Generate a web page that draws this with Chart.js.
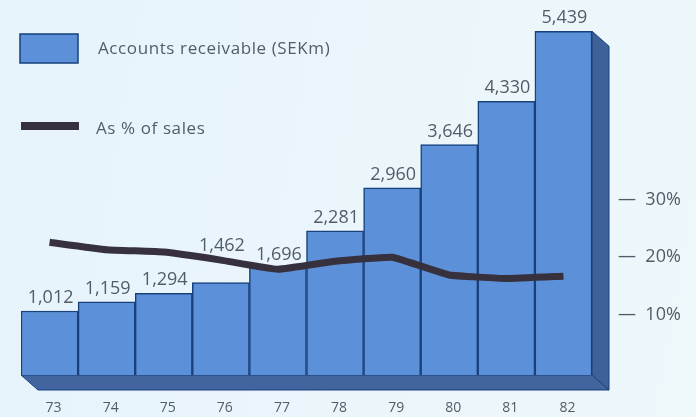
<!DOCTYPE html>
<html>
<head>
<meta charset="utf-8">
<style>
  html, body { margin: 0; padding: 0; width: 696px; height: 417px; overflow: hidden;
    background: linear-gradient(100deg, #e6f3fb 0%, #ebf6fb 55%, #eef8fb 100%); }
  #wrap { position: absolute; left: 0; top: 0; width: 696px; height: 417px; }
</style>
</head>
<body>
<div id="wrap"><canvas id="chart" width="696" height="417"></canvas></div>
<script src="https://cdn.jsdelivr.net/npm/chart.js@4/dist/chart.umd.min.js"></script>
<script>
// Accounts receivable, 1973-82, with its share of sales
const years = ['73', '74', '75', '76', '77', '78', '79', '80', '81', '82'];
const receivables = [1012, 1159, 1294, 1462, 1696, 2281, 2960, 3646, 4330, 5439];
const percentOfSales = [22.6, 21.3, 20.9, 19.5, 17.9, 19.3, 20.0, 16.9, 16.3, 16.7];
const percentTicks = [10, 20, 30];
// Labels that sit above the percentage line rather than on their bar
const labelsAboveLine = ['76', '77'];

const FONT = '"Open Sans", "Noto Sans", sans-serif';
const TEXT = '#525c68';
const BAR = '#5c90d9';
const EDGE = '#17407c';
const LINE = '#37303d';

// Floor and side wall that give the column block its depth
const depthPlugin = {
  id: 'depth',
  beforeDatasetsDraw(chart) {
    const { ctx, chartArea: a, scales: { y } } = chart;
    const top = y.getPixelForValue(receivables[receivables.length - 1]);
    const dx = 17, dy = 15;
    ctx.save();
    ctx.strokeStyle = EDGE;
    ctx.lineWidth = 1;
    ctx.fillStyle = '#42659f';
    ctx.beginPath();
    ctx.moveTo(a.left, a.bottom);
    ctx.lineTo(a.right, a.bottom);
    ctx.lineTo(a.right + dx, a.bottom + dy);
    ctx.lineTo(a.left + dx, a.bottom + dy);
    ctx.closePath();
    ctx.fill();
    ctx.stroke();
    ctx.fillStyle = '#3f6199';
    ctx.beginPath();
    ctx.moveTo(a.right, top);
    ctx.lineTo(a.right + dx, top + dy);
    ctx.lineTo(a.right + dx, a.bottom + dy);
    ctx.lineTo(a.right, a.bottom);
    ctx.closePath();
    ctx.fill();
    ctx.stroke();
    ctx.restore();
  }
};

// Value above each column
const valueLabelPlugin = {
  id: 'valueLabels',
  afterDatasetsDraw(chart) {
    const { ctx, scales: { x, y, y1 } } = chart;
    ctx.save();
    ctx.font = '18px ' + FONT;
    ctx.fillStyle = TEXT;
    ctx.textAlign = 'center';
    ctx.textBaseline = 'middle';
    receivables.forEach((v, i) => {
      const raised = labelsAboveLine.includes(years[i]);
      const py = raised ? y1.getPixelForValue(percentOfSales[i]) - 14
                        : y.getPixelForValue(v) - 13;
      ctx.fillText(v.toLocaleString('en-US'), x.getPixelForValue(i) + 1, py);
    });
    ctx.restore();
  }
};

// Key in the upper left corner
const keyPlugin = {
  id: 'key',
  afterDraw(chart) {
    const { ctx } = chart;
    const [line, bars] = chart.data.datasets;
    ctx.save();
    ctx.fillStyle = BAR;
    ctx.strokeStyle = EDGE;
    ctx.lineWidth = 1.5;
    ctx.fillRect(20, 34, 58, 29);
    ctx.strokeRect(20, 34, 58, 29);
    ctx.fillStyle = LINE;
    ctx.fillRect(21, 122, 58, 8);
    ctx.font = '17px ' + FONT;
    ctx.letterSpacing = '0.6px';
    ctx.fillStyle = TEXT;
    ctx.textBaseline = 'middle';
    ctx.fillText(bars.label, 98, 49);
    ctx.fillText(line.label, 96, 129);
    ctx.restore();
  }
};

new Chart(document.getElementById('chart'), {
  data: {
    labels: years,
    datasets: [
      {
        type: 'line',
        label: 'As % of sales',
        data: percentOfSales,
        yAxisID: 'y1',
        borderColor: LINE,
        borderWidth: 7,
        borderCapStyle: 'butt',
        borderJoinStyle: 'round',
        pointRadius: 0,
        tension: 0.1,
        order: 1
      },
      {
        type: 'bar',
        label: 'Accounts receivable (SEKm)',
        data: receivables,
        yAxisID: 'y',
        backgroundColor: BAR,
        borderColor: EDGE,
        borderWidth: 1.5,
        barPercentage: 1,
        categoryPercentage: 1,
        order: 2
      }
    ]
  },
  options: {
    responsive: false,
    animation: false,
    devicePixelRatio: 1,
    layout: { padding: { left: 21, right: 0, top: 27.4, bottom: 0 } },
    plugins: { legend: { display: false }, tooltip: { enabled: false } },
    scales: {
      x: {
        offset: true,
        grid: { display: false },
        border: { display: false },
        afterFit(s) { s.height = 42; s.paddingLeft = 0; s.paddingRight = 0; },
        ticks: {
          color: TEXT,
          font: { family: FONT, size: 14 },
          padding: 17,
          labelOffset: 4,
          maxRotation: 0
        }
      },
      y: {
        display: false,
        min: 0,
        max: 5500
      },
      y1: {
        position: 'right',
        min: -0.5,
        max: 60,
        grid: { display: false },
        border: { display: false },
        afterBuildTicks(s) { s.ticks = percentTicks.map(value => ({ value })); },
        afterFit(s) { s.width = 104; s.paddingTop = 0; s.paddingBottom = 0; },
        ticks: {
          color: TEXT,
          font: { family: FONT, size: 18 },
          padding: 18,
          callback: v => '\u2014  ' + v + '%'
        }
      }
    }
  },
  plugins: [depthPlugin, valueLabelPlugin, keyPlugin]
});
</script>
</body>
</html>
